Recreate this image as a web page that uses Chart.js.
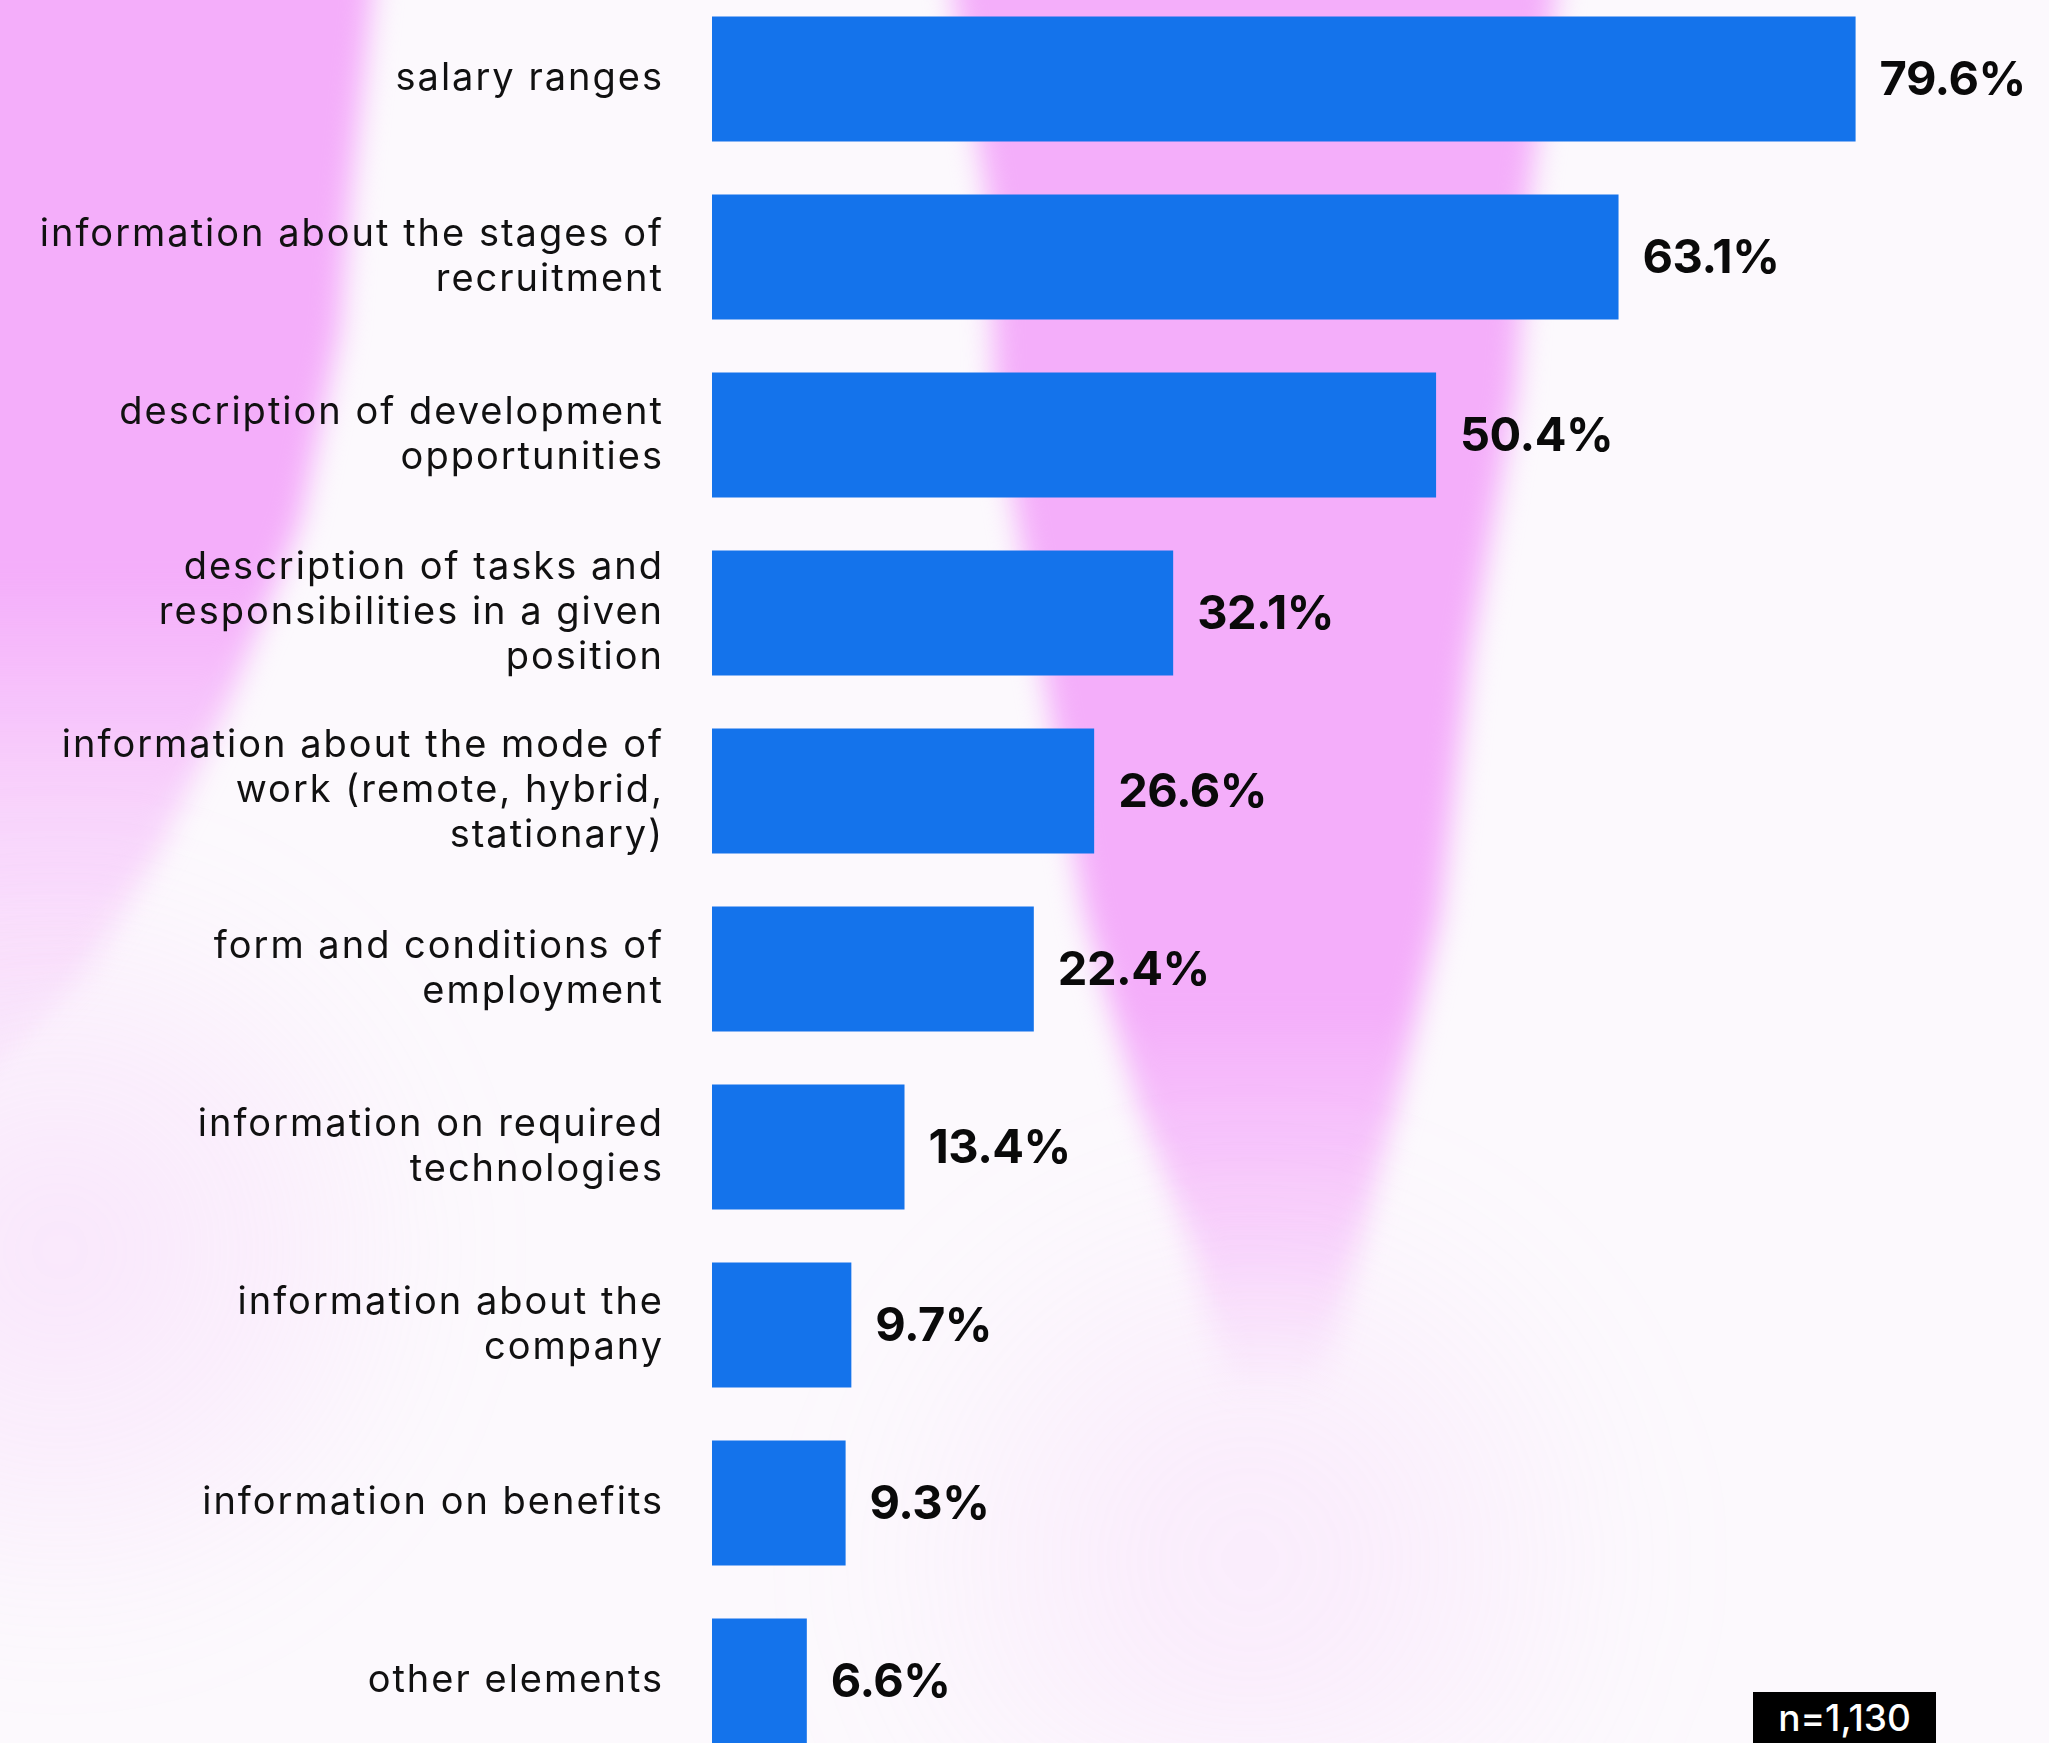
<!doctype html>
<html>
<head>
<meta charset="utf-8">
<title>What candidates want to see in a job ad</title>
<script src="https://cdn.jsdelivr.net/npm/chart.js"></script>
<style>
  html, body { margin: 0; padding: 0; background: #fcf9fd; overflow: hidden; }
  #frame { position: relative; width: 2049px; height: 1743px; overflow: hidden; }
  /* chart is a little taller than the page so the last bar runs off the bottom */
  #chartBox { position: absolute; left: 0; top: -10px; width: 2049px; height: 1780px; }
  #sample {
    position: absolute; left: 1753px; top: 1692px; width: 183px; height: 52px;
    background: #000; color: #fff; text-align: center;
    font: 500 37px Inter, sans-serif; line-height: 52px;
  }
</style>
</head>
<body>
<div id="frame">
  <div id="chartBox"><canvas id="adChart"></canvas></div>
  <div id="sample">n=1,130</div>
</div>

<script>
// answers, top to bottom
const categories = [
  'salary ranges',
  ['information about the stages of', 'recruitment'],
  ['description of development', 'opportunities'],
  ['description of tasks and', 'responsibilities in a given', 'position'],
  ['information about the mode of', 'work (remote, hybrid,', 'stationary)'],
  ['form and conditions of', 'employment'],
  ['information on required', 'technologies'],
  ['information about the', 'company'],
  'information on benefits',
  'other elements'
];

// share of respondents, %
const shares = [79.6, 63.1, 50.4, 32.1, 26.6, 22.4, 13.4, 9.7, 9.3, 6.6];

const BAR_BLUE = '#1473eb';
const PINK = '#f4aefa';

// painted pink brush strokes behind the chart
const brushBackground = {
  id: 'brushBackground',
  beforeDraw(chart) {
    const ctx = chart.ctx;
    const w = chart.width, h = chart.height;
    ctx.save();
    ctx.fillStyle = '#fcf9fd';
    ctx.fillRect(0, 0, w, h);
    ctx.translate(0, 10);

    function stroke(points, fill) {
      ctx.beginPath();
      points.forEach(([x, y], i) => i ? ctx.lineTo(x, y) : ctx.moveTo(x, y));
      ctx.closePath();
      ctx.fillStyle = fill;
      ctx.fill();
    }

    ctx.filter = 'blur(14px)';

    // left stroke
    let g = ctx.createLinearGradient(0, 0, 0, 1150);
    g.addColorStop(0, PINK);
    g.addColorStop(0.5, PINK);
    g.addColorStop(0.7, 'rgba(244,174,250,0.5)');
    g.addColorStop(1, 'rgba(244,174,250,0)');
    stroke([[-60, -60], [375, -60], [372, 0], [350, 200], [340, 330], [300, 522], [230, 700],
            [160, 850], [80, 980], [-60, 1120]], g);

    // middle stroke, narrowing as it goes down
    g = ctx.createLinearGradient(0, 0, 0, 1400);
    g.addColorStop(0, PINK);
    g.addColorStop(0.72, PINK);
    g.addColorStop(0.88, 'rgba(244,174,250,0.5)');
    g.addColorStop(1, 'rgba(244,174,250,0)');
    stroke([[950, -60], [1560, -60], [1555, 0], [1529, 196], [1516, 392], [1470, 653],
            [1440, 915], [1395, 1111], [1360, 1241], [1320, 1400], [1230, 1400],
            [1190, 1241], [1140, 1111], [1085, 915], [1040, 653], [995, 392], [987, 196], [954, 0]], g);

    // faint haze towards the bottom
    ctx.filter = 'blur(60px)';
    g = ctx.createRadialGradient(1250, 1560, 20, 1250, 1560, 420);
    g.addColorStop(0, 'rgba(244,174,250,0.18)');
    g.addColorStop(1, 'rgba(244,174,250,0)');
    ctx.fillStyle = g;
    ctx.fillRect(700, 1100, 1100, 700);
    g = ctx.createRadialGradient(60, 1250, 20, 60, 1250, 400);
    g.addColorStop(0, 'rgba(244,174,250,0.25)');
    g.addColorStop(1, 'rgba(244,174,250,0)');
    ctx.fillStyle = g;
    ctx.fillRect(-200, 850, 800, 950);

    ctx.restore();
    // the category labels are set a little wide
    ctx.letterSpacing = '2px';
  }
};

// percentage next to the end of each bar
const valueLabels = {
  id: 'valueLabels',
  afterDatasetsDraw(chart) {
    const ctx = chart.ctx;
    const meta = chart.getDatasetMeta(0);
    ctx.save();
    ctx.letterSpacing = '-0.5px';
    ctx.font = '700 47px Inter, sans-serif';
    ctx.fillStyle = '#0a0a0a';
    ctx.textBaseline = 'middle';
    ctx.textAlign = 'left';
    meta.data.forEach((bar, i) => {
      ctx.fillText(shares[i].toFixed(1) + '%', bar.x + 24, bar.y + 2);
    });
    ctx.restore();
  }
};

new Chart(document.getElementById('adChart'), {
  type: 'bar',
  data: {
    labels: categories,
    datasets: [{
      data: shares,
      backgroundColor: BAR_BLUE,
      borderWidth: 0,
      categoryPercentage: 1,
      barPercentage: 0.702
    }]
  },
  options: {
    indexAxis: 'y',
    responsive: true,
    maintainAspectRatio: false,
    animation: false,
    layout: { padding: { left: 0, right: 44, top: 0, bottom: 0 } },
    plugins: {
      legend: { display: false },
      tooltip: { enabled: false }
    },
    scales: {
      x: { display: false, min: 0, max: 90 },
      y: {
        grid: { display: false, drawTicks: false },
        border: { display: false },
        ticks: {
          padding: 48,
          color: '#111',
          font: { family: 'Inter, sans-serif', size: 38, weight: 400, lineHeight: 45 / 38 }
        },
        afterFit(scale) {
          scale.width = 712;
          // let the bands fill the whole height
          scale.paddingTop = 0;
          scale.paddingBottom = 0;
        }
      }
    }
  },
  plugins: [brushBackground, valueLabels]
});
</script>
</body>
</html>
